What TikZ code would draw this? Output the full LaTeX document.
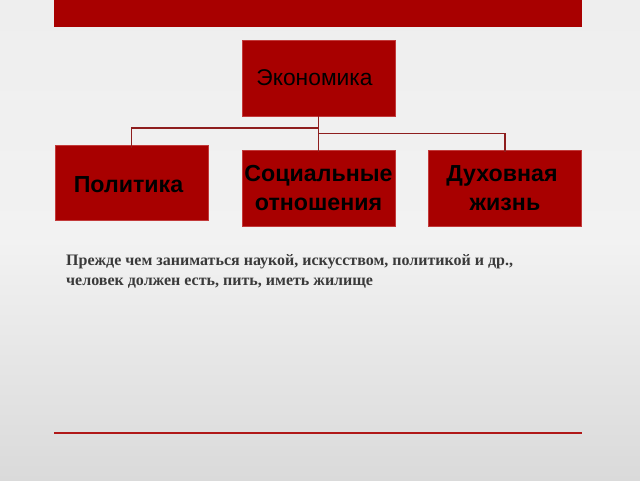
\documentclass[tikz,border=0pt]{standalone}
\usepackage{fontspec}
\setmainfont{Liberation Sans}
\newfontfamily\serifbold{Liberation Serif}
\definecolor{boxred}{HTML}{A80000}
\definecolor{boxedge}{HTML}{C23A3A}
\definecolor{linkred}{HTML}{8E1E1E}
\definecolor{rulered}{HTML}{B01818}
\definecolor{bgtop}{HTML}{EEEEEE}
\definecolor{bgmid}{HTML}{F2F2F2}
\definecolor{bgbot}{HTML}{DADADA}
\definecolor{bodytext}{HTML}{3A3A3A}
\begin{document}
\begin{tikzpicture}[x=1pt,y=-1pt,
  redbox/.style={rectangle,fill=boxred,draw=boxedge,line width=0.6pt,
    minimum width=153pt,minimum height=76pt,inner sep=0pt,align=center,
    text=black,font=\fontsize{22.8}{28}\selectfont},
  boldbox/.style={redbox,font=\fontsize{23.2}{29}\selectfont\bfseries},
  link/.style={draw=linkred,line width=1.4pt}]
\useasboundingbox (0,0) rectangle (640,480);
\shade[top color=bgtop,bottom color=bgbot,middle color=bgmid] (0,0) rectangle (640,480);
\fill[boxred] (54,0) rectangle (582,26.5);
\node[redbox] (eco) at (318.5,78) {Экономика\hspace{8pt}};
\node[boldbox,minimum height=75pt] (pol) at (131.5,183) {\raisebox{-3pt}[17pt][5pt]{Политика}\hspace*{6pt}};
\node[boldbox] (soc) at (318.5,188) {Социальные\\отношения};
\node[boldbox] (duh) at (505,188) {Духовная\hspace*{6pt}\\жизнь};
\coordinate (hl) at (318.5,128);
\coordinate (hr) at (318.5,133.5);
\draw[link] (eco.south) -- ([yshift=-2pt]soc.north);
\draw[link] (hl) -| ([yshift=-2.5pt]pol.north);
\draw[link] (hr) -| ([yshift=-2pt]duh.north);
\node[anchor=north west,align=left,text=bodytext,inner sep=0pt,
  font=\serifbold\fontsize{16}{20}\selectfont\bfseries] (txt) at (66,254)
  {Прежде чем заниматься наукой, искусством, политикой и др.,\\человек должен есть, пить, иметь жилище};
\coordinate (r1) at (54,432.5);
\coordinate (r2) at (582,432.5);
\draw[draw=rulered,line width=2pt] (r1) -- (r2);
\end{tikzpicture}
\end{document}
